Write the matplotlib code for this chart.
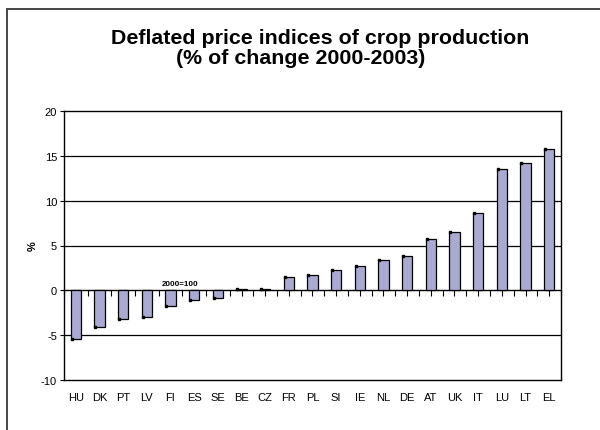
import matplotlib
matplotlib.use("Agg")
import matplotlib.pyplot as plt
from matplotlib.patches import Rectangle
import numpy as np

countries = ["HU", "DK", "PT", "LV", "FI", "ES", "SE", "BE", "CZ", "FR", "PL",
             "SI", "IE", "NL", "DE", "AT", "UK", "IT", "LU", "LT", "EL"]
change = [-5.4, -4.1, -3.2, -3.0, -1.8, -1.1, -0.9, 0.2, 0.2, 1.5, 1.7,
          2.3, 2.7, 3.4, 3.8, 5.7, 6.5, 8.6, 13.5, 14.2, 15.8]
yticks = [-10, -5, 0, 5, 10, 15, 20]

plt.rcParams['font.family'] = ['Liberation Sans', 'DejaVu Sans']

fig = plt.figure(figsize=(6, 4.31), dpi=100)
ax = fig.add_axes([64 / 600, 1 - 381 / 431, (561 - 64) / 600, (381 - 112) / 431])

# outer chart frame (cut off on the right and bottom like the original)
fig.patches.append(Rectangle((7 / 600, -0.1), 1.2, 1.1 - 10 / 431,
                             transform=fig.transFigure, fill=False,
                             edgecolor="#444444", linewidth=1.4))

x = np.arange(len(countries))
w = 0.45
ax.bar(x, change, width=w, color="#a9a9d1", edgecolor="black", linewidth=0.9, zorder=3)
ax.plot(x - w / 2 + 0.05, change, "s", color="black", markersize=1.6, zorder=4)

ax.set_xlim(-0.5, len(countries) - 0.5)
ax.set_ylim(-10, 20)
ax.set_yticks(yticks)
ax.set_yticklabels([str(v) for v in yticks], fontsize=8)
ax.tick_params(axis="y", direction="out", length=3, width=0.8, pad=2)

for v in yticks[1:-1]:
    if v != 0:
        ax.axhline(v, color="black", linewidth=0.9, zorder=1)

ax.set_xticks(x)
ax.set_xticklabels(countries, fontsize=8)
ax.tick_params(axis="x", length=0, pad=9)

for s in ax.spines.values():
    s.set_linewidth(1.0)

# category axis through zero with tick marks
zero_pos = (0 - (-10)) / 30
sec = ax.secondary_xaxis(zero_pos)
sec.set_xticks(np.arange(-0.5, len(countries), 1.0))
sec.set_xticks(x, minor=True)
sec.tick_params(which="both", direction="out", length=4, width=0.8, labelbottom=False)
sec.spines["bottom"].set_linewidth(1.0)
sec.set_xticklabels([])

ax.text(4.4, 0.75, "2000=100", fontsize=5.8, fontweight="bold", ha="center", va="center")
ax.set_ylabel("%", fontsize=8, fontweight="bold", labelpad=2)

fig.text(320 / 600, 1 - 38 / 431, "Deflated price indices of crop production",
         ha="center", va="center", fontsize=15.4, fontweight="bold")
fig.text(301 / 600, 1 - 59 / 431, "(% of change 2000-2003)",
         ha="center", va="center", fontsize=15.4, fontweight="bold")

fig.savefig("out.png", dpi=100)
